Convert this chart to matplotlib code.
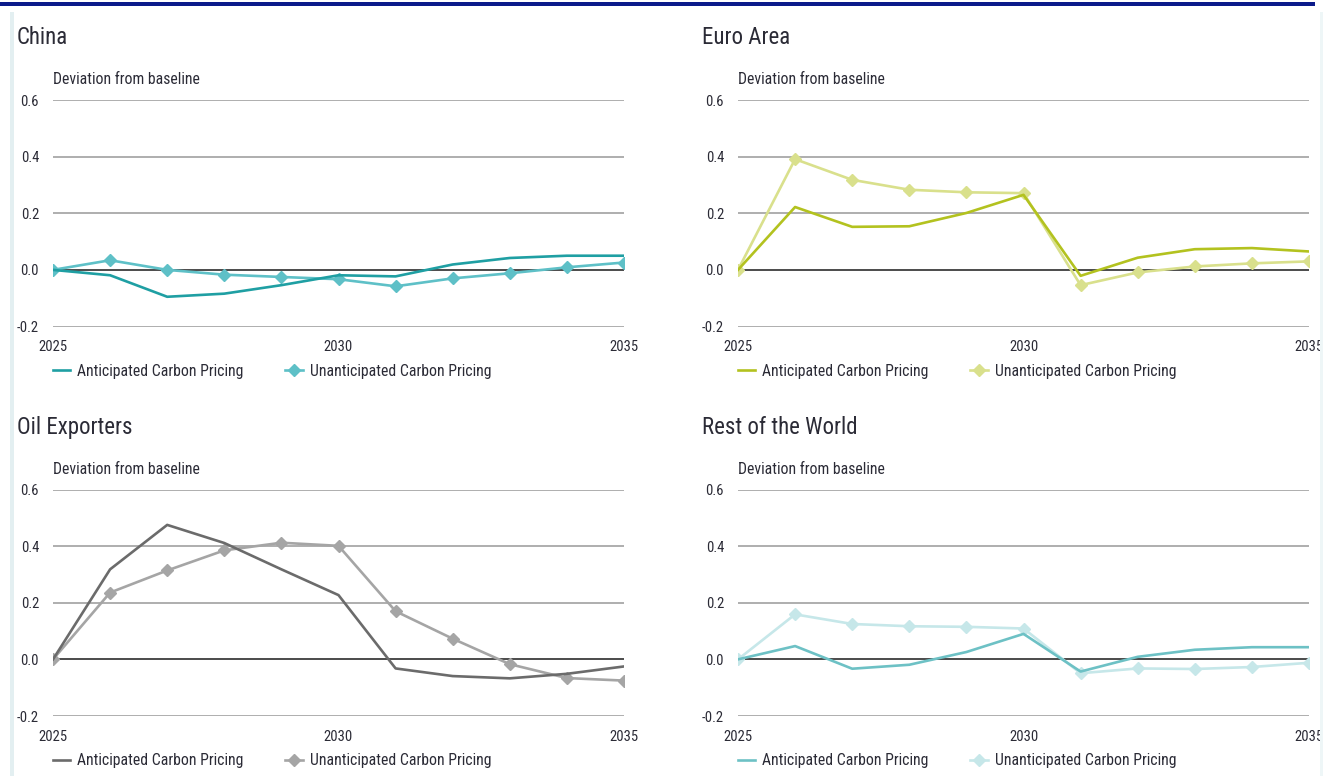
import numpy as np
import matplotlib.pyplot as plt
from matplotlib.patches import Rectangle

plt.rcParams['font.family'] = ['Roboto Condensed', 'Lato', 'DejaVu Sans']

years = np.arange(2025, 2036)

china_ant = [0.0, -0.019, -0.095, -0.084, -0.054, -0.019, -0.023, 0.019, 0.042, 0.05, 0.05]
china_unant = [0.0, 0.034, 0.0, -0.017, -0.025, -0.033, -0.058, -0.03, -0.012, 0.009, 0.026]

euro_ant = [0.0, 0.222, 0.152, 0.154, 0.201, 0.265, -0.021, 0.043, 0.073, 0.077, 0.065]
euro_unant = [0.0, 0.391, 0.318, 0.283, 0.274, 0.271, -0.054, -0.009, 0.012, 0.023, 0.03]

oil_ant = [0.0, 0.318, 0.475, 0.411, 0.318, 0.227, -0.032, -0.059, -0.067, -0.051, -0.025]
oil_unant = [0.0, 0.236, 0.314, 0.385, 0.412, 0.401, 0.17, 0.073, -0.017, -0.066, -0.075]

row_ant = [0.0, 0.047, -0.033, -0.019, 0.026, 0.09, -0.043, 0.009, 0.034, 0.043, 0.043]
row_unant = [0.0, 0.159, 0.125, 0.117, 0.115, 0.109, -0.049, -0.032, -0.034, -0.027, -0.012]

yticks = [-0.2, 0.0, 0.2, 0.4, 0.6]
xticks = [2025, 2030, 2035]
ytitle = 'Deviation from baseline'
label_ant = 'Anticipated Carbon Pricing'
label_unant = 'Unanticipated Carbon Pricing'

W, H = 1325, 776
fig = plt.figure(figsize=(W / 100, H / 100), dpi=100)
fig.patch.set_facecolor('white')

# navy rule along the top and pale side bars
fig.add_artist(Rectangle((0, 1 - 6 / H), 1315 / W, 4 / H, transform=fig.transFigure,
                         color='#0b1a8a', lw=0))
fig.add_artist(Rectangle((10 / W, 0), 4 / W, 1 - 12 / H, transform=fig.transFigure,
                         color='#e3eff1', lw=0))
fig.add_artist(Rectangle((1320 / W, 0), 3 / W, 1 - 12 / H, transform=fig.transFigure,
                         color='#eef6f7', lw=0))

txt = '#2b2b36'
fs_tick = 10.5
fs = 11.3


def panel(left_px, top_px, title, ant, unant, c_ant, c_unant):
    # top_px is where 0.6 sits, bottom is where -0.2 sits
    bot_px = top_px + 226.5
    width_px = 571
    ax = fig.add_axes([left_px / W, 1 - bot_px / H, width_px / W, 226.5 / H])
    ax.set_xlim(2025, 2035)
    ax.set_ylim(-0.2, 0.6)
    for y in yticks:
        if y == 0:
            ax.axhline(y, color='#1a1a1a', lw=1.1, zorder=1)
        else:
            ax.axhline(y, color='#a8a8a8', lw=1.3, zorder=1)
    ax.plot(years, ant, color=c_ant, lw=1.9, label=label_ant, zorder=3)
    ax.plot(years, unant, color=c_unant, lw=1.9, marker='D', ms=6.3,
            label=label_unant, zorder=2)
    for s in ax.spines.values():
        s.set_visible(False)
    ax.set_yticks(yticks)
    ax.set_yticklabels([f'{v:.1f}' for v in yticks])
    ax.set_xticks(xticks)
    ax.set_xticklabels([str(x) for x in xticks])
    ax.tick_params(length=0, labelsize=fs_tick, colors=txt)
    ax.tick_params(axis='y', pad=10)
    ax.tick_params(axis='x', pad=10)
    ax.text(0, 1.09, ytitle, transform=ax.transAxes, fontsize=fs, color=txt,
            va='center', ha='left')
    fig.text((left_px - 36) / W, 1 - (top_px - 62) / H, title, fontsize=16.5,
             color=txt, va='center', ha='left')
    ax.legend(loc='upper left', bbox_to_anchor=(0, -0.165), ncol=2, frameon=False,
              fontsize=fs, borderpad=0, borderaxespad=0, handlelength=1.1,
              handletextpad=0.45, columnspacing=2.65, labelcolor=txt)
    return ax


panel(53, 100, 'China', china_ant, china_unant, '#1f9fa3', '#5ec0c7')
panel(738, 100, 'Euro Area', euro_ant, euro_unant, '#b3c21f', '#d9e08c')
panel(53, 489.5, 'Oil Exporters', oil_ant, oil_unant, '#6b6b6b', '#a5a5a5')
panel(738, 489.5, 'Rest of the World', row_ant, row_unant, '#6dc1c5', '#c6e7e9')

fig.savefig('out.png', dpi=100)
